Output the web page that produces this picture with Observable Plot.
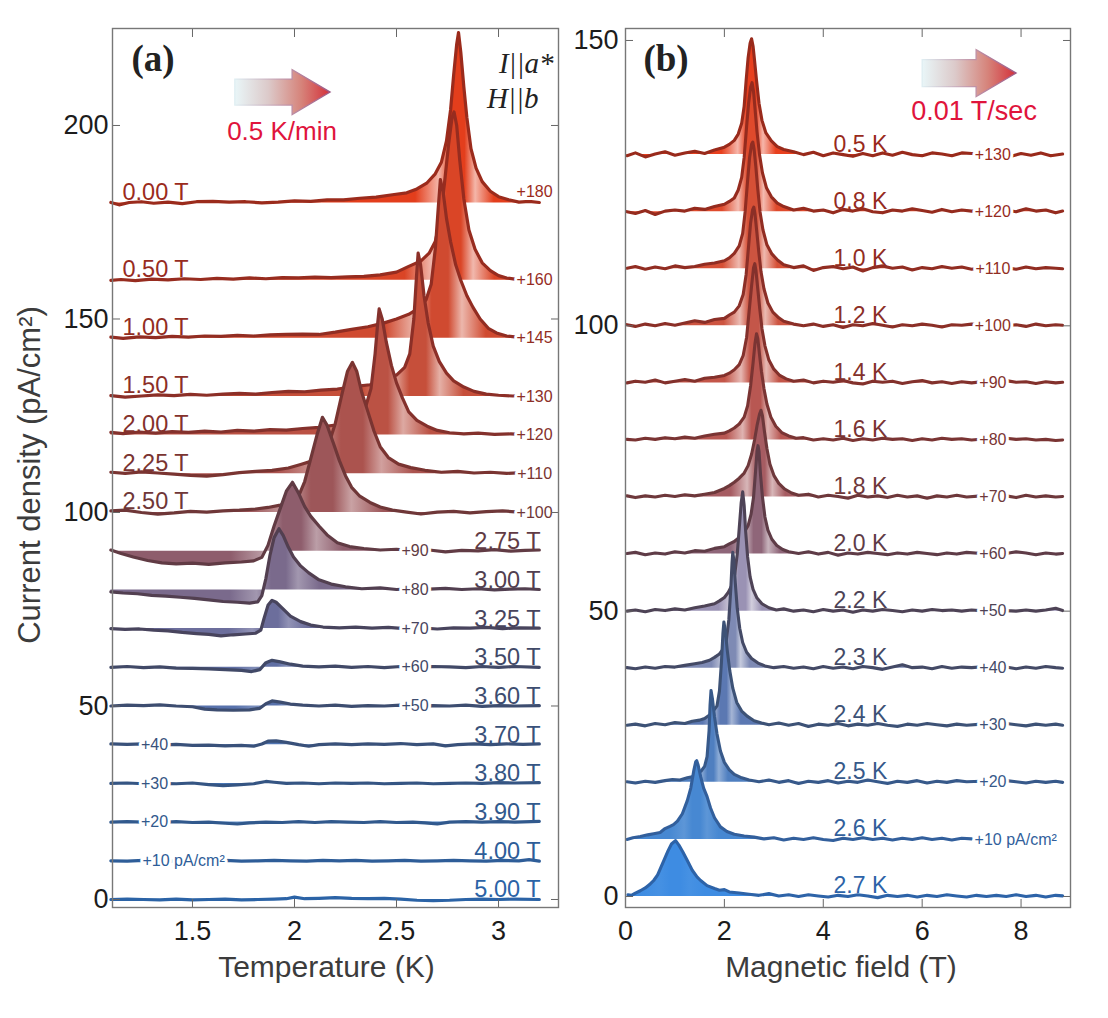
<!DOCTYPE html>
<html><head><meta charset="utf-8">
<script src="https://cdn.jsdelivr.net/npm/d3@7"></script>
<script src="https://cdn.jsdelivr.net/npm/@observablehq/plot@0.6"></script>
<style>
body{margin:0;background:#fff;}
#wrap{position:relative;width:1108px;height:1018px;overflow:hidden;background:#fff;}
#pa{position:absolute;left:0;top:0;}
#pb{position:absolute;left:560px;top:0;}
svg text{paint-order:stroke;}
</style></head><body><div id="wrap"><div id="pa"></div><div id="pb"></div></div>
<script>
// ---------------- DATA: panel (a) temperature sweeps at fixed field ----------------
const fieldLabels = ["0.00 T","0.50 T","1.00 T","1.50 T","2.00 T","2.25 T","2.50 T","2.75 T","3.00 T","3.25 T","3.50 T","3.60 T","3.70 T","3.80 T","3.90 T","4.00 T","5.00 T"];
const fieldOffsets = [180,160,145,130,120,110,100,90,80,70,60,50,40,30,20,10,0];
const fieldOffsetText = ["+180","+160","+145","+130","+120","+110","+100","+90","+80","+70","+60","+50","+40","+30","+20","+10 pA/cm²",""];
const fieldPeakT = [2.804,2.782,2.715,2.606,2.415,2.284,2.137,1.99,1.924,1.89,1.89,1.89,1.9,1.86,1.8,1.8,1.8];
// [temperature K, current density above offset]
const fieldCurves = [
[[1.10,0.1],[1.14,-0.5],[1.19,0.1],[1.25,0.3],[1.31,-0.1],[1.38,0.2],[1.45,-0.2],[1.52,0.3],[1.60,0.4],[1.68,0.2],[1.76,0.3],[1.84,0.0],[1.92,0.2],[2.00,0.5],[2.08,0.4],[2.16,0.8],[2.24,0.8],[2.32,1.2],[2.40,1.5],[2.48,2.1],[2.55,2.6],[2.60,3.6],[2.65,5.2],[2.69,7.5],[2.72,10.5],[2.745,16],[2.765,24],[2.78,33],[2.795,41],[2.804,44],[2.815,39],[2.83,30],[2.845,22],[2.865,14],[2.89,9],[2.92,5.5],[2.96,3],[3.00,1.6],[3.05,0.8],[3.10,0.2],[3.15,0.4],[3.20,0.1]],
[[1.10,0.0],[1.15,0.2],[1.22,-0.1],[1.30,0.3],[1.38,0.1],[1.46,0.4],[1.54,0.2],[1.62,0.5],[1.70,0.3],[1.78,0.6],[1.86,0.4],[1.94,0.7],[2.02,0.6],[2.10,0.8],[2.18,0.7],[2.26,0.9],[2.34,1.0],[2.42,1.4],[2.50,2.1],[2.56,3.6],[2.62,5.0],[2.66,7.0],[2.69,10],[2.715,16],[2.735,25],[2.755,35],[2.772,42],[2.782,43.5],[2.795,40],[2.81,31],[2.83,21],[2.855,13],[2.885,8],[2.92,4.5],[2.96,2.5],[3.00,1.2],[3.04,0.6],[3.08,0.3],[3.14,0.1],[3.20,0.2]],
[[1.10,0.3],[1.16,0.0],[1.24,0.4],[1.32,0.2],[1.40,0.5],[1.48,0.3],[1.56,0.6],[1.64,0.5],[1.72,0.8],[1.80,0.6],[1.88,0.9],[1.96,1.0],[2.04,1.1],[2.12,1.0],[2.20,1.6],[2.28,2.3],[2.36,3.0],[2.44,4.0],[2.50,5.0],[2.56,6.2],[2.61,7.8],[2.645,10],[2.67,14],[2.69,23],[2.705,34],[2.715,41],[2.728,38],[2.745,31],[2.765,25],[2.79,19],[2.815,15],[2.845,11],[2.875,8],[2.91,5],[2.95,2.6],[2.99,1.4],[3.04,0.6],[3.09,0.3],[3.15,0.4],[3.20,0.2]],
[[1.10,0.2],[1.17,-0.2],[1.25,0.1],[1.33,0.4],[1.41,0.2],[1.49,0.5],[1.57,0.3],[1.65,0.6],[1.73,0.8],[1.81,0.6],[1.89,1.0],[1.97,1.3],[2.05,1.2],[2.13,1.6],[2.21,1.9],[2.29,2.5],[2.37,3.0],[2.44,4.2],[2.50,5.5],[2.54,7.5],[2.565,11],[2.585,20],[2.598,31],[2.606,37],[2.618,34],[2.635,26],[2.655,19],[2.68,13],[2.71,9],[2.745,6],[2.78,4],[2.83,2.4],[2.88,1.3],[2.94,0.6],[3.00,0.3],[3.07,0.1],[3.14,0.3],[3.20,0.1]],
[[1.10,0.7],[1.16,0.4],[1.24,0.8],[1.32,0.5],[1.40,0.9],[1.48,0.7],[1.56,1.0],[1.64,0.8],[1.72,1.2],[1.80,1.0],[1.88,1.4],[1.96,1.3],[2.04,1.7],[2.12,2.0],[2.20,2.6],[2.26,3.4],[2.31,4.8],[2.35,7.5],[2.375,12],[2.395,21],[2.408,29],[2.415,32.6],[2.43,30],[2.45,24],[2.475,18],[2.50,13.5],[2.53,9.5],[2.56,6.0],[2.60,3.8],[2.65,2.3],[2.70,1.2],[2.76,0.6],[2.83,0.3],[2.90,0.5],[2.98,0.2],[3.06,0.3],[3.13,0.1],[3.20,0.3]],
[[1.10,0.4],[1.17,0.1],[1.25,0.5],[1.33,0.2],[1.41,-0.1],[1.49,-0.4],[1.57,-0.6],[1.65,-0.2],[1.73,0.3],[1.81,0.6],[1.89,0.9],[1.97,1.5],[2.03,2.4],[2.08,3.2],[2.13,4.8],[2.17,8],[2.20,13],[2.23,20],[2.26,26.5],[2.284,28.8],[2.305,26.5],[2.33,21],[2.36,16],[2.39,11],[2.42,7],[2.46,4.2],[2.51,2.5],[2.57,1.6],[2.64,0.9],[2.72,0.4],[2.80,0.6],[2.88,0.2],[2.96,0.4],[3.04,0.1],[3.12,0.3],[3.20,0.2]],
[[1.10,0.4],[1.17,0.6],[1.25,0.0],[1.33,-0.4],[1.41,-0.1],[1.49,0.3],[1.57,0.1],[1.65,0.4],[1.73,0.6],[1.81,0.9],[1.87,1.3],[1.93,1.9],[1.98,2.6],[2.02,4.2],[2.05,8],[2.08,14],[2.11,20],[2.137,24.6],[2.16,22.5],[2.19,18],[2.22,13.4],[2.25,9.5],[2.28,6.5],[2.32,4.2],[2.37,2.6],[2.42,1.4],[2.48,0.6],[2.55,0.1],[2.62,-0.4],[2.70,0.1],[2.78,0.3],[2.86,-0.1],[2.94,0.2],[3.02,0.4],[3.10,0.1],[3.20,0.3]],
[[1.10,0.3],[1.15,-0.6],[1.21,-1.5],[1.28,-2.4],[1.35,-3.0],[1.42,-3.3],[1.50,-3.1],[1.58,-3.4],[1.66,-3.0],[1.74,-2.8],[1.80,-2.5],[1.84,-1.6],[1.87,1.5],[1.90,6.5],[1.93,11],[1.96,15.5],[1.99,17.8],[2.02,15],[2.05,11.5],[2.08,9],[2.12,6.5],[2.16,4.2],[2.21,2.2],[2.27,1.2],[2.34,0.7],[2.42,0.3],[2.50,0.5],[2.58,0.1],[2.66,0.3],[2.74,-0.2],[2.82,0.2],[2.90,0.1],[2.98,0.4],[3.06,0.0],[3.13,0.2],[3.20,0.3]],
[[1.10,-0.5],[1.16,-0.8],[1.23,-1.0],[1.30,-1.4],[1.37,-1.6],[1.44,-1.9],[1.51,-2.2],[1.58,-2.6],[1.65,-3.0],[1.72,-3.2],[1.78,-3.4],[1.82,-3.1],[1.84,-1.5],[1.86,3],[1.88,9],[1.90,13.5],[1.924,15.8],[1.945,14],[1.97,11],[1.995,8.5],[2.03,6.2],[2.07,4.4],[2.12,2.6],[2.18,1.5],[2.25,0.8],[2.33,0.3],[2.42,0.5],[2.50,0.1],[2.58,0.3],[2.66,0.2],[2.74,0.4],[2.82,0.1],[2.90,0.3],[2.98,0.0],[3.06,0.2],[3.13,0.3],[3.20,0.1]],
[[1.10,0.0],[1.17,-0.2],[1.24,-0.1],[1.31,-0.4],[1.38,-0.6],[1.45,-1.0],[1.52,-1.3],[1.58,-1.5],[1.64,-1.9],[1.70,-1.6],[1.76,-1.4],[1.81,-1.2],[1.835,-0.4],[1.85,2.5],[1.87,6],[1.89,7.3],[1.91,6.8],[1.94,5.3],[1.98,3.2],[2.03,1.8],[2.08,0.9],[2.14,0.4],[2.22,0.2],[2.30,0.4],[2.38,0.1],[2.46,0.3],[2.54,0.0],[2.62,0.2],[2.70,-0.1],[2.78,0.2],[2.86,0.1],[2.94,0.3],[3.02,0.0],[3.10,0.2],[3.20,0.1]],
[[1.10,0.0],[1.18,0.2],[1.26,-0.1],[1.34,0.1],[1.42,-0.2],[1.50,-0.3],[1.58,-0.4],[1.66,-0.6],[1.74,-0.8],[1.79,-1.1],[1.83,-0.6],[1.86,1.2],[1.89,1.8],[1.93,1.4],[1.98,0.8],[2.04,0.3],[2.12,0.1],[2.20,0.3],[2.28,0.0],[2.36,0.2],[2.44,-0.1],[2.52,0.2],[2.60,0.0],[2.68,0.2],[2.76,0.1],[2.84,-0.1],[2.92,0.2],[3.00,0.0],[3.08,0.2],[3.20,0.0]],
[[1.10,0.0],[1.18,0.2],[1.26,0.1],[1.34,0.3],[1.42,0.0],[1.50,-0.2],[1.56,-0.8],[1.62,-1.0],[1.70,-1.1],[1.78,-1.0],[1.83,-0.6],[1.86,0.6],[1.89,1.3],[1.93,1.0],[1.98,0.5],[2.04,0.2],[2.12,0.0],[2.20,0.2],[2.28,-0.1],[2.36,0.1],[2.44,0.0],[2.52,0.2],[2.60,-0.1],[2.68,0.1],[2.76,0.0],[2.84,0.2],[2.92,-0.1],[3.00,0.1],[3.08,0.0],[3.20,0.1]],
[[1.10,0.2],[1.18,0.1],[1.26,0.2],[1.34,-0.1],[1.42,0.1],[1.50,-0.2],[1.58,-0.1],[1.66,-0.3],[1.74,-0.2],[1.80,-0.4],[1.84,0.2],[1.87,0.9],[1.91,1.0],[1.96,0.6],[2.02,0.0],[2.07,-0.4],[2.12,0.0],[2.20,0.2],[2.28,0.0],[2.36,0.2],[2.44,0.1],[2.52,0.3],[2.60,0.0],[2.68,0.2],[2.74,-0.3],[2.80,0.0],[2.88,0.2],[2.96,0.0],[3.04,0.2],[3.12,0.1],[3.20,0.2]],
[[1.10,0.0],[1.18,0.1],[1.26,-0.1],[1.34,0.0],[1.42,-0.1],[1.50,0.1],[1.58,-0.3],[1.65,-0.6],[1.72,-0.4],[1.80,-0.1],[1.86,0.5],[1.90,0.3],[1.96,0.0],[2.04,0.1],[2.12,-0.1],[2.20,0.1],[2.28,0.0],[2.36,0.1],[2.44,-0.1],[2.52,0.0],[2.60,0.1],[2.68,-0.1],[2.76,0.0],[2.84,0.1],[2.92,0.0],[3.00,0.2],[3.08,0.1],[3.20,0.2]],
[[1.10,0.0],[1.18,0.1],[1.26,0.0],[1.34,-0.1],[1.42,0.1],[1.50,-0.1],[1.58,0.0],[1.66,-0.3],[1.72,-0.5],[1.78,-0.2],[1.86,0.0],[1.94,-0.1],[2.02,0.1],[2.10,-0.1],[2.18,0.1],[2.26,0.0],[2.34,-0.1],[2.42,0.1],[2.50,-0.1],[2.58,0.0],[2.64,-0.2],[2.70,-0.5],[2.76,0.0],[2.84,0.1],[2.92,0.0],[3.00,0.1],[3.08,0.0],[3.20,0.2]],
[[1.10,0.0],[1.18,-0.1],[1.26,0.1],[1.34,0.0],[1.42,-0.1],[1.50,0.1],[1.58,0.0],[1.66,0.1],[1.74,-0.1],[1.82,0.0],[1.90,0.1],[1.98,0.0],[2.06,-0.1],[2.14,0.1],[2.22,0.0],[2.30,0.1],[2.38,-0.1],[2.46,0.0],[2.54,0.1],[2.62,-0.1],[2.70,0.0],[2.78,0.1],[2.86,0.0],[2.94,-0.1],[3.02,0.1],[3.10,0.0],[3.15,0.3],[3.20,-0.1]],
[[1.10,0.0],[1.18,0.1],[1.26,0.0],[1.34,-0.1],[1.42,0.1],[1.50,-0.1],[1.58,0.0],[1.66,0.1],[1.74,-0.1],[1.82,0.0],[1.90,0.1],[1.96,0.2],[2.00,0.6],[2.05,0.2],[2.12,0.3],[2.20,0.5],[2.28,0.3],[2.36,0.2],[2.44,0.3],[2.52,0.1],[2.60,-0.2],[2.68,-0.3],[2.76,-0.2],[2.84,0.0],[2.92,0.1],[3.00,0.0],[3.08,0.1],[3.20,0.0]]
];
const fieldXTicks = [1.5, 2, 2.5, 3];
const fieldYTicks = [0, 50, 100, 150, 200];

// ---------------- DATA: panel (b) field sweeps at fixed temperature ----------------
const tempLabels = ["0.5 K","0.8 K","1.0 K","1.2 K","1.4 K","1.6 K","1.8 K","2.0 K","2.2 K","2.3 K","2.4 K","2.5 K","2.6 K","2.7 K"];
const tempOffsets = [130,120,110,100,90,80,70,60,50,40,30,20,10,0];
const tempOffsetText = ["+130","+120","+110","+100","+90","+80","+70","+60","+50","+40","+30","+20","+10 pA/cm²",""];
const tempPeakH = [2.55,2.56,2.575,2.595,2.615,2.65,2.74,2.68,2.37,2.17,1.99,1.73,1.44,1.01];
// [magnetic field T, current density above offset]
const tempCurves = [
[[0.03,-0.2],[0.2,0.3],[0.4,-0.4],[0.6,0.1],[0.8,0.5],[1.0,-0.1],[1.2,0.3],[1.4,0.6],[1.6,0.2],[1.8,0.8],[2.0,1.3],[2.1,1.8],[2.2,2.5],[2.28,3.6],[2.35,5.5],[2.40,8.5],[2.44,13],[2.48,17],[2.52,19.5],[2.55,20.3],[2.58,19],[2.61,16.5],[2.65,13],[2.70,9],[2.76,6],[2.84,3.8],[2.95,2.4],[3.07,1.4],[3.2,0.9],[3.4,0.5],[3.6,0.0],[3.8,0.4],[4.0,-0.2],[4.2,0.3],[4.4,0.0],[4.6,-0.3],[4.8,0.2],[5.0,-0.2],[5.2,0.3],[5.4,-0.1],[5.6,0.4],[5.8,0.0],[6.0,-0.2],[6.2,0.3],[6.4,0.1],[6.6,-0.2],[6.8,0.3],[7.0,0.2],[7.2,0.1],[7.4,0.4],[7.6,0.0],[7.8,-0.3],[8.0,0.2],[8.2,-0.1],[8.4,0.3],[8.6,-0.2],[8.84,0.1]],
[[0.03,0.0],[0.2,-0.3],[0.4,0.2],[0.6,-0.5],[0.8,0.1],[1.0,0.3],[1.2,0.1],[1.4,0.6],[1.6,0.4],[1.8,0.9],[2.0,1.3],[2.1,1.8],[2.2,2.4],[2.28,3.8],[2.35,6],[2.40,9.5],[2.45,15],[2.49,19],[2.53,21.8],[2.56,22.6],[2.59,21],[2.62,18],[2.66,14],[2.71,10],[2.77,6.8],[2.85,4.2],[2.95,2.6],[3.07,1.5],[3.2,0.9],[3.4,0.3],[3.6,0.6],[3.8,0.1],[4.0,0.3],[4.2,-0.2],[4.4,0.4],[4.6,0.1],[4.8,0.5],[5.0,0.0],[5.2,-0.2],[5.4,0.3],[5.6,0.1],[5.8,0.5],[6.0,0.2],[6.2,-0.1],[6.4,0.4],[6.6,0.0],[6.8,0.3],[7.0,0.1],[7.3,0.2],[7.5,-0.1],[7.7,0.3],[7.9,0.0],[8.1,0.5],[8.3,0.1],[8.5,0.3],[8.7,-0.2],[8.84,0.1]],
[[0.03,0.1],[0.2,0.4],[0.4,-0.1],[0.6,0.3],[0.8,0.0],[1.0,0.5],[1.2,0.2],[1.4,0.4],[1.6,0.8],[1.8,1.0],[2.0,1.4],[2.1,1.9],[2.2,2.7],[2.3,4.0],[2.37,6.2],[2.42,10],[2.47,15.5],[2.51,19.5],[2.55,21.8],[2.575,22.2],[2.60,21],[2.635,18],[2.675,14],[2.72,10],[2.78,6.8],[2.86,4.2],[2.96,2.6],[3.08,1.5],[3.2,0.7],[3.4,0.2],[3.6,0.5],[3.8,-0.3],[4.0,0.2],[4.2,0.4],[4.4,0.0],[4.6,0.3],[4.8,-0.4],[5.0,0.2],[5.2,0.5],[5.4,0.1],[5.6,0.3],[5.8,-0.2],[6.0,0.2],[6.2,0.0],[6.4,0.4],[6.6,0.1],[6.8,0.3],[7.0,-0.1],[7.3,0.3],[7.5,0.0],[7.7,0.2],[7.9,-0.1],[8.1,0.3],[8.3,0.0],[8.5,0.2],[8.7,0.1],[8.84,0.0]],
[[0.03,0.2],[0.2,-0.1],[0.4,0.3],[0.6,0.0],[0.8,0.4],[1.0,0.1],[1.2,0.5],[1.4,0.9],[1.6,0.6],[1.8,1.1],[2.0,1.3],[2.1,1.9],[2.2,2.4],[2.3,3.5],[2.38,5.5],[2.44,9],[2.49,14],[2.53,18],[2.57,20.3],[2.595,20.8],[2.62,19.5],[2.655,16.5],[2.695,13],[2.74,9.5],[2.80,6.5],[2.88,4],[2.98,2.4],[3.10,1.4],[3.2,0.8],[3.4,0.3],[3.6,0.0],[3.8,0.3],[4.0,-0.1],[4.2,0.2],[4.4,-0.3],[4.6,0.2],[4.8,0.0],[5.0,0.4],[5.2,0.1],[5.4,-0.2],[5.6,0.2],[5.8,0.0],[6.0,0.3],[6.2,0.1],[6.4,-0.2],[6.6,0.2],[6.8,0.1],[7.0,0.3],[7.3,0.1],[7.5,0.4],[7.7,0.0],[7.9,0.2],[8.1,-0.1],[8.3,0.3],[8.5,0.0],[8.7,0.2],[8.84,0.1]],
[[0.03,0.0],[0.2,0.3],[0.4,0.1],[0.6,0.5],[0.8,0.0],[1.0,0.3],[1.2,0.6],[1.4,0.3],[1.6,0.8],[1.8,1.0],[2.0,1.3],[2.1,1.7],[2.2,2.3],[2.3,3.2],[2.38,4.8],[2.45,8],[2.50,12.5],[2.55,17],[2.59,20.2],[2.615,20.9],[2.64,19.5],[2.675,16.5],[2.715,13],[2.76,9.5],[2.82,6.5],[2.90,4.0],[3.00,2.4],[3.12,1.3],[3.25,0.7],[3.4,0.3],[3.6,0.5],[3.8,0.0],[4.0,0.3],[4.2,0.1],[4.4,0.4],[4.6,0.0],[4.8,-0.2],[5.0,0.3],[5.2,0.1],[5.4,0.3],[5.6,-0.1],[5.8,0.2],[6.0,0.4],[6.2,0.0],[6.4,0.2],[6.6,-0.1],[6.8,0.2],[7.0,0.0],[7.3,0.3],[7.5,0.1],[7.7,0.4],[7.9,0.1],[8.1,0.2],[8.3,-0.1],[8.5,0.2],[8.7,0.0],[8.84,0.1]],
[[0.03,0.1],[0.2,0.0],[0.4,0.3],[0.6,0.1],[0.8,0.4],[1.0,0.2],[1.2,0.5],[1.4,0.3],[1.6,0.7],[1.8,1.0],[2.0,1.2],[2.1,1.6],[2.2,2.1],[2.3,2.8],[2.4,4.0],[2.47,6],[2.53,9.5],[2.58,13.5],[2.62,17],[2.65,18.6],[2.675,17.8],[2.71,15],[2.75,12],[2.80,9],[2.86,6.3],[2.94,4.0],[3.04,2.4],[3.16,1.3],[3.3,0.7],[3.45,0.3],[3.6,0.4],[3.8,0.0],[4.0,0.2],[4.2,0.0],[4.4,0.3],[4.6,-0.1],[4.8,0.2],[5.0,0.0],[5.2,0.3],[5.4,0.1],[5.6,0.2],[5.8,-0.1],[6.0,0.2],[6.2,0.0],[6.4,0.3],[6.6,0.1],[6.8,0.2],[7.0,0.0],[7.3,0.2],[7.5,0.0],[7.7,0.3],[7.9,0.1],[8.1,0.2],[8.3,0.0],[8.5,0.1],[8.7,-0.1],[8.84,0.0]],
[[0.03,0.2],[0.2,-0.1],[0.4,0.2],[0.6,0.0],[0.8,0.3],[1.0,0.1],[1.2,0.4],[1.4,0.2],[1.6,0.5],[1.8,0.8],[2.0,1.5],[2.1,2.0],[2.2,2.6],[2.3,3.3],[2.4,4.2],[2.48,5.5],[2.55,7.5],[2.61,10],[2.66,12.5],[2.71,14.5],[2.74,15.2],[2.77,14.2],[2.81,11.5],[2.86,8.5],[2.92,5.8],[3.00,3.8],[3.10,2.4],[3.22,1.4],[3.36,0.7],[3.5,0.3],[3.7,0.5],[3.9,0.0],[4.1,0.3],[4.3,0.1],[4.5,-0.2],[4.7,0.3],[4.9,0.0],[5.1,0.2],[5.3,-0.1],[5.5,0.3],[5.7,0.0],[5.9,0.2],[6.1,-0.2],[6.3,0.2],[6.5,0.0],[6.7,0.3],[6.9,0.0],[7.2,0.2],[7.5,0.0],[7.7,0.2],[7.9,-0.1],[8.1,0.3],[8.3,0.0],[8.5,0.2],[8.7,0.0],[8.84,0.1]],
[[0.03,0.1],[0.2,0.3],[0.4,-0.1],[0.6,0.2],[0.8,0.0],[1.0,0.4],[1.2,0.2],[1.4,0.6],[1.6,0.5],[1.8,1.0],[2.0,1.3],[2.1,1.8],[2.2,2.2],[2.3,2.9],[2.4,3.8],[2.48,5],[2.54,7],[2.59,10],[2.63,14.5],[2.66,18],[2.68,19],[2.70,18],[2.73,14],[2.77,10],[2.82,6.5],[2.88,4.2],[2.96,2.6],[3.06,1.5],[3.18,0.8],[3.3,0.4],[3.5,0.1],[3.7,0.4],[3.9,0.0],[4.1,0.3],[4.3,-0.2],[4.5,0.2],[4.7,0.0],[4.9,0.3],[5.1,0.1],[5.3,-0.1],[5.5,0.2],[5.7,0.0],[5.9,0.3],[6.1,0.1],[6.3,-0.1],[6.5,0.2],[6.7,0.0],[6.9,0.3],[7.2,0.1],[7.5,0.3],[7.7,0.1],[7.9,0.4],[8.1,0.2],[8.3,-0.1],[8.5,0.2],[8.7,0.0],[8.84,0.1]],
[[0.03,0.0],[0.2,0.2],[0.4,-0.1],[0.6,0.3],[0.8,0.1],[1.0,0.4],[1.2,0.2],[1.4,0.6],[1.6,0.9],[1.8,1.3],[1.9,1.8],[2.0,2.4],[2.08,3.3],[2.15,4.5],[2.21,6.5],[2.26,10],[2.30,14.5],[2.34,19],[2.37,20.9],[2.40,18.5],[2.43,14],[2.47,9.5],[2.52,6],[2.58,3.8],[2.66,2.3],[2.76,1.3],[2.9,0.6],[3.05,0.2],[3.2,0.4],[3.4,0.0],[3.6,0.2],[3.8,-0.1],[4.0,0.3],[4.2,0.0],[4.4,0.2],[4.6,-0.2],[4.8,0.2],[5.0,0.0],[5.2,0.3],[5.4,0.1],[5.6,-0.1],[5.8,0.2],[6.0,0.0],[6.2,0.3],[6.4,0.1],[6.6,0.2],[6.8,0.0],[7.0,0.2],[7.3,0.0],[7.5,0.3],[7.7,0.1],[7.9,0.0],[8.1,0.2],[8.3,0.0],[8.5,0.2],[8.7,0.5],[8.84,0.1]],
[[0.03,0.1],[0.2,-0.1],[0.4,0.2],[0.6,0.0],[0.8,0.3],[1.0,0.2],[1.2,0.5],[1.4,0.8],[1.55,1.0],[1.7,1.4],[1.8,1.9],[1.9,2.5],[1.98,3.4],[2.04,5],[2.09,8.5],[2.13,14],[2.155,18.5],[2.17,20.3],[2.19,19],[2.22,15],[2.26,10.5],[2.31,7],[2.37,4.5],[2.45,2.8],[2.55,1.7],[2.68,0.9],[2.82,0.4],[3.0,0.1],[3.2,0.3],[3.4,0.0],[3.6,0.2],[3.8,-0.1],[4.0,0.3],[4.2,0.0],[4.4,0.2],[4.6,-0.1],[4.8,0.3],[5.0,0.1],[5.2,-0.2],[5.4,0.2],[5.6,0.6],[5.8,0.1],[6.0,0.2],[6.2,-0.1],[6.4,0.3],[6.6,0.0],[6.8,0.2],[7.0,0.1],[7.3,0.3],[7.5,0.0],[7.7,0.2],[7.9,-0.1],[8.1,0.2],[8.3,0.0],[8.5,0.3],[8.7,0.1],[8.84,0.0]],
[[0.03,0.0],[0.2,0.2],[0.4,-0.1],[0.6,0.3],[0.8,0.1],[1.0,0.5],[1.2,0.3],[1.35,0.7],[1.5,0.9],[1.6,1.2],[1.7,1.8],[1.78,2.6],[1.85,3.4],[1.90,6],[1.94,11],[1.97,16],[1.99,18.1],[2.02,16.5],[2.06,13],[2.11,9.5],[2.17,6.5],[2.25,4],[2.35,2.5],[2.46,1.6],[2.6,0.8],[2.75,0.4],[2.9,0.1],[3.1,0.4],[3.3,0.0],[3.5,0.3],[3.7,-0.2],[3.9,0.2],[4.1,0.0],[4.3,0.3],[4.5,-0.1],[4.7,0.2],[4.9,0.0],[5.1,0.3],[5.3,0.0],[5.5,-0.2],[5.7,0.2],[5.9,0.0],[6.1,0.3],[6.3,0.1],[6.5,-0.1],[6.7,0.2],[6.9,0.0],[7.2,0.2],[7.5,0.0],[7.7,0.3],[7.9,0.1],[8.1,-0.1],[8.3,0.2],[8.5,0.0],[8.7,0.2],[8.84,0.0]],
[[0.03,0.1],[0.2,-0.1],[0.4,0.2],[0.6,0.0],[0.8,0.3],[0.95,0.5],[1.1,0.4],[1.25,0.8],[1.35,1.0],[1.45,1.5],[1.53,2.0],[1.60,2.8],[1.65,4.5],[1.69,9],[1.71,13.5],[1.73,16.1],[1.76,14.5],[1.80,11.5],[1.85,8.5],[1.92,5.5],[2.0,3.5],[2.1,2.2],[2.2,1.4],[2.35,0.8],[2.5,0.4],[2.7,0.1],[2.9,0.4],[3.1,0.0],[3.3,0.3],[3.5,-0.2],[3.7,0.2],[3.9,0.0],[4.1,0.3],[4.3,-0.1],[4.5,0.2],[4.7,0.0],[4.9,0.4],[5.1,0.1],[5.3,-0.2],[5.5,0.2],[5.7,0.0],[5.9,0.3],[6.1,-0.1],[6.3,0.2],[6.5,0.0],[6.7,0.3],[6.9,0.1],[7.2,0.2],[7.5,0.0],[7.7,0.3],[7.9,0.1],[8.1,-0.1],[8.3,0.2],[8.5,0.0],[8.7,0.2],[8.84,0.0]],
[[0.03,0.0],[0.15,0.3],[0.3,0.5],[0.45,0.8],[0.57,1.0],[0.7,1.2],[0.8,1.9],[0.9,2.3],[0.97,2.6],[1.05,3.2],[1.15,4.5],[1.25,6.8],[1.32,9],[1.38,12],[1.42,13.6],[1.44,13.8],[1.47,13],[1.52,11],[1.58,9],[1.65,7.5],[1.72,5.5],[1.80,3.8],[1.92,2.2],[2.05,1.4],[2.2,0.9],[2.4,0.6],[2.6,0.4],[2.8,0.1],[3.0,0.3],[3.2,-0.1],[3.4,0.2],[3.6,0.0],[3.8,0.3],[4.0,0.0],[4.2,-0.2],[4.4,0.2],[4.6,0.0],[4.8,0.3],[5.0,0.0],[5.2,0.2],[5.4,-0.1],[5.6,0.2],[5.8,0.0],[6.0,0.3],[6.2,0.0],[6.4,0.2],[6.6,-0.1],[6.8,0.2],[7.0,0.1]],
[[0.05,0.3],[0.12,0.2],[0.2,0.6],[0.3,1.0],[0.4,1.5],[0.5,2.2],[0.57,2.8],[0.65,3.8],[0.72,5.2],[0.79,6.6],[0.86,8],[0.93,9.2],[1.01,9.8],[1.08,9.0],[1.16,7.8],[1.25,6.3],[1.35,4.6],[1.45,3.4],[1.52,2.8],[1.65,1.9],[1.8,1.4],[1.9,1.1],[2.0,1.2],[2.1,0.8],[2.3,0.6],[2.5,0.4],[2.7,0.2],[2.9,0.5],[3.1,0.1],[3.3,0.3],[3.5,0.0],[3.7,0.3],[3.9,0.1],[4.1,-0.1],[4.3,0.2],[4.5,0.0],[4.7,0.3],[4.9,0.1],[5.1,-0.2],[5.3,0.2],[5.5,0.0],[5.7,0.2],[5.9,-0.1],[6.1,0.2],[6.3,0.0],[6.5,0.3],[6.7,0.1],[6.9,-0.1],[7.1,0.2],[7.3,0.0],[7.5,0.2],[7.7,0.0],[7.9,0.3],[8.1,0.0],[8.3,0.2],[8.5,-0.1],[8.7,0.2],[8.84,0.1]]
];
const tempXTicks = [0, 2, 4, 6, 8];
const tempYTicks = [0, 50, 100, 150];

// ---------------- STYLE / LAYOUT ----------------
const FONT = '"Liberation Sans", Arial, Helvetica, sans-serif';
const SERIF = '"Liberation Serif", "DejaVu Serif", serif';
const lineColorsA = ["#9b2b1c","#972c1f","#922d22","#8c2f27","#84312c","#7a3431","#6f3738","#613b44","#523f50","#48445d","#414967","#3d4d70","#39517a","#355583","#31598d","#2e5d98","#2b63a6"];
const fillColorsA = ["#e33e1c","#da4526","#d04a30","#c64f3a","#bb5244","#ab534e","#9d5659","#8e5d6c","#7a6a8c","#6c6e9c","#606fa4","#5872ac","#5075b2","#4a78b8","#457bbe","#407ec4","#3a82cc"];
const gradWidthA = [0.035,0.04,0.045,0.045,0.05,0.06,0.06,0.05,0.04,0.035,0.03,0.03,0.03,0.03,0.03,0.03,0.03];
const highlightA = [0.62,0.62,0.6,0.55,0.5,0.45,0.45,0.4,0.3,0.25,0.2,0.2,0.2,0.2,0.2,0.2,0.2];
const lineColorsB = ["#992a1b","#952b1e","#912d22","#8b2f27","#83312c","#7a3433","#6e383b","#5f3c47","#4e4356","#444a66","#3d5276","#37598a","#325f9c","#2d63a8"];
const fillColorsB = ["#e8401e","#df4a2c","#d65036","#cd5440","#c45649","#b85752","#a65c62","#8f6679","#9a92b4","#7e8ab4","#5b78b2","#4f7fc0","#4788d2","#3e8ce2"];
const gradWidthB = [0.1,0.1,0.1,0.1,0.1,0.1,0.1,0.09,0.08,0.07,0.07,0.07,0.09,0.12];
const highlightB = [0.62,0.62,0.6,0.6,0.58,0.55,0.55,0.5,0.55,0.55,0.45,0.35,0.12,0.04];

const ns = "http://www.w3.org/2000/svg";
function el(tag, attrs) { const e = document.createElementNS(ns, tag); for (const k in attrs) e.setAttribute(k, attrs[k]); return e; }

function txt(str, opts) { return Plot.text([str], {text: d => d, ...opts}); }

function addDefs(svg, plot, id, peaks, widths, fills, hl) {
  const sx = plot.scale("x");
  const defs = el("defs", {});
  peaks.forEach((p, i) => {
    const w = widths[i];
    const xa = sx.apply(p - 6 * w), xb = sx.apply(p + 5 * w);
    const g = el("linearGradient", {id: id + "g" + i, gradientUnits: "userSpaceOnUse", x1: xa, x2: xb, y1: 0, y2: 0});
    const c = fills[i], light = d3.interpolateRgb(c, "#ffffff")(hl[i]);
    [[p - 6 * w, c], [p - 2.7 * w, light], [p - 0.9 * w, c], [p + 0.9 * w, c], [p + 2.4 * w, light], [p + 5 * w, c]]
      .forEach(([t, col]) => g.appendChild(el("stop", {offset: (sx.apply(t) - xa) / (xb - xa), "stop-color": col})));
    defs.appendChild(g);
  });
  const ag = el("linearGradient", {id: id + "arrow", x1: 0, x2: 1, y1: 0, y2: 0});
  [[0, "#e9f6f8"], [0.35, "#dccaca"], [0.7, "#d6837a"], [1, "#d4303a"]].forEach(([o, c]) => ag.appendChild(el("stop", {offset: o, "stop-color": c})));
  defs.appendChild(ag);
  const sg = el("linearGradient", {id: id + "arrowS", x1: 0, x2: 1, y1: 0, y2: 0});
  [[0, "#dfeef2"], [0.5, "#c49aac"], [1, "#9c5a86"]].forEach(([o, c]) => sg.appendChild(el("stop", {offset: o, "stop-color": c})));
  defs.appendChild(sg);
  svg.insertBefore(defs, svg.firstChild);
}

function addArrow(svg, plot, id, a, st) {
  const sx = plot.scale("x"), sy = plot.scale("y");
  const x1 = sx.apply(a.x1), x2 = sx.apply(a.x2), yc = sy.apply(a.y), hx = x2 - st.headLen;
  const d = `M${x1},${yc - st.shaftHalf}L${hx},${yc - st.shaftHalf}L${hx},${yc - st.headHalf}L${x2},${yc}L${hx},${yc + st.headHalf}L${hx},${yc + st.shaftHalf}L${x1},${yc + st.shaftHalf}Z`;
  svg.appendChild(el("path", {d, fill: `url(#${id}arrow)`, stroke: `url(#${id}arrowS)`, "stroke-width": 1.3, "stroke-linejoin": "miter"}));
}

function panel(cfg) {
  const marks = [];
  cfg.curves.forEach((pts, i) => {
    const off = cfg.offsets[i];
    marks.push(Plot.areaY(pts, {x: d => d[0], y1: off, y2: d => d[1] + off, fill: `url(#${cfg.id}g${i})`}));
    marks.push(Plot.line(pts, {x: d => d[0], y: d => d[1] + off, stroke: cfg.lineColors[i], strokeWidth: cfg.lw, strokeLinejoin: "round", strokeLinecap: "round"}));
  });
  cfg.names.forEach((n, i) => {
    const p = cfg.namePos(i);
    marks.push(txt(n, {x: p.x, y: cfg.offsets[i], textAnchor: p.anchor, lineAnchor: "bottom", dy: p.dy, fontSize: cfg.nameSize, fill: cfg.lineColors[i], fontFamily: FONT}));
  });
  cfg.offText.forEach((t, i) => {
    if (!t) return;
    const p = cfg.offPos(i);
    marks.push(txt(t, {x: p.x, y: cfg.offsets[i], textAnchor: p.anchor, lineAnchor: p.line, dy: p.dy, fontSize: 16, fill: cfg.lineColors[i], stroke: "white", strokeWidth: 6, paintOrder: "stroke", fontFamily: FONT}));
  });
  marks.push(txt(cfg.rate.text, {x: cfg.rate.x, y: cfg.rate.y, textAnchor: "middle", lineAnchor: "middle", fontSize: cfg.rate.size, fill: "#e0143c", fontFamily: FONT}));
  marks.push(txt(cfg.letter, {frameAnchor: "top-left", dx: 40.5, dy: 31, textAnchor: "middle", lineAnchor: "middle", fontSize: 37, fontWeight: "bold", fill: "#222", fontFamily: SERIF}));
  (cfg.extra || []).forEach(m => marks.push(m));
  marks.push(Plot.axisX({anchor: "bottom", ticks: cfg.xTicks, tickSize: -8, fill: "none", stroke: "#666", label: null}));
  marks.push(Plot.axisX({anchor: "top", ticks: cfg.xTicks, tickSize: -8, fill: "none", stroke: "#666", label: null}));
  marks.push(Plot.axisY({anchor: "left", ticks: cfg.yTicks, tickSize: -8, fill: "none", stroke: "#666", label: null}));
  marks.push(Plot.axisY({anchor: "right", ticks: cfg.yTicks, tickSize: -8, fill: "none", stroke: "#666", label: null}));
  marks.push(Plot.axisX({anchor: "bottom", ticks: cfg.xTicks, tickSize: 0, tickPadding: 13, tickFormat: d => String(d), fontSize: 27, fill: "#1c1c1c", label: null, fontFamily: FONT}));
  marks.push(Plot.axisY({anchor: "left", ticks: cfg.yTicks, tickSize: 0, tickPadding: cfg.yPad, tickFormat: d => String(d), fontSize: 27, fill: "#1c1c1c", label: null, fontFamily: FONT}));
  marks.push(txt(cfg.xTitle, {frameAnchor: "bottom", dx: cfg.xTitleDx, dy: 60, textAnchor: "middle", lineAnchor: "middle", fontSize: 30, fill: "#3c3c3c", fontFamily: FONT}));
  marks.push(Plot.frame({stroke: "#777", strokeWidth: 1.4}));

  const plot = Plot.plot({
    width: cfg.width, height: 1018,
    marginLeft: cfg.ml, marginRight: cfg.mr, marginTop: 28, marginBottom: 111,
    x: {domain: cfg.xDomain, label: null},
    y: {domain: cfg.yDomain, label: null},
    style: {fontFamily: FONT, background: "transparent", overflow: "visible"},
    marks
  });
  addDefs(plot, plot, cfg.id, cfg.peaks, cfg.gradW, cfg.fills, cfg.hl);
  addArrow(plot, plot, cfg.id, cfg.arrow, cfg.arrowStyle);
  return plot;
}

const A = panel({
  id: "pa", width: 560, ml: 112, mr: 2, xDomain: [1.108, 3.294], yDomain: [-2.07, 225.06],
  curves: fieldCurves, offsets: fieldOffsets, peaks: fieldPeakT, gradW: gradWidthA, hl: highlightA,
  lineColors: lineColorsA, fills: fillColorsA, lw: 3.2, names: fieldLabels, offText: fieldOffsetText,
  nameSize: 23.5, yPad: 4, xTicks: fieldXTicks, yTicks: fieldYTicks,
  namePos: i => i < 7 ? {x: 1.157, anchor: "start", dy: -3} : {x: 3.206, anchor: "end", dy: -2},
  offPos: i => i === 0 ? {x: 3.265, anchor: "end", line: "bottom", dy: -6}
    : i <= 6 ? {x: 3.177, anchor: "middle", line: "middle", dy: 0}
    : i <= 11 ? {x: 2.591, anchor: "middle", line: "middle", dy: 0}
    : i <= 14 ? {x: 1.314, anchor: "middle", line: "middle", dy: 0}
    : {x: 1.255, anchor: "start", line: "middle", dy: 0},
  rate: {text: "0.5 K/min", x: 1.939, y: 198.3, size: 26},
  letter: "(a)",
  xTitle: "Temperature (K)", xTitleDx: -9,
  arrow: {x1: 1.71, x2: 2.177, y: 208.5}, arrowStyle: {shaftHalf: 13, headHalf: 22.5, headLen: 38},
  extra: [
    txt("I||a*", {frameAnchor: "top-right", dx: -5, dy: 35, textAnchor: "end", lineAnchor: "middle", fontSize: 29, fontStyle: "italic", fill: "#222", fontFamily: SERIF}),
    txt("H||b", {frameAnchor: "top-right", dx: -20, dy: 70, textAnchor: "end", lineAnchor: "middle", fontSize: 29, fontStyle: "italic", fill: "#222", fontFamily: SERIF}),
    txt("Current density (pA/cm²)", {frameAnchor: "left", rotate: -90, dx: -82, dy: 7, textAnchor: "middle", lineAnchor: "middle", fontSize: 31, fill: "#3c3c3c", fontFamily: FONT})
  ]
});
document.getElementById("pa").appendChild(A);

const B = panel({
  id: "pb", width: 548, ml: 65, mr: 38, xDomain: [0, 9], yDomain: [-1.93, 152.1],
  curves: tempCurves, offsets: tempOffsets, peaks: tempPeakH, gradW: gradWidthB, hl: highlightB,
  lineColors: lineColorsB, fills: fillColorsB, lw: 3.1, names: tempLabels, offText: tempOffsetText,
  nameSize: 23, yPad: 7, xTicks: tempXTicks, yTicks: tempYTicks,
  namePos: i => ({x: 4.207, anchor: "start", dy: -3}),
  offPos: i => i === 12 ? {x: 7.06, anchor: "start", line: "middle", dy: 0} : {x: 7.43, anchor: "middle", line: "middle", dy: 0},
  rate: {text: "0.01 T/sec", x: 7.05, y: 137.5, size: 27},
  letter: "(b)",
  xTitle: "Magnetic field (T)", xTitleDx: -7,
  arrow: {x1: 6.01, x2: 7.91, y: 144.2}, arrowStyle: {shaftHalf: 13.5, headHalf: 23.5, headLen: 40}
});
document.getElementById("pb").appendChild(B);
</script>
</body></html>
